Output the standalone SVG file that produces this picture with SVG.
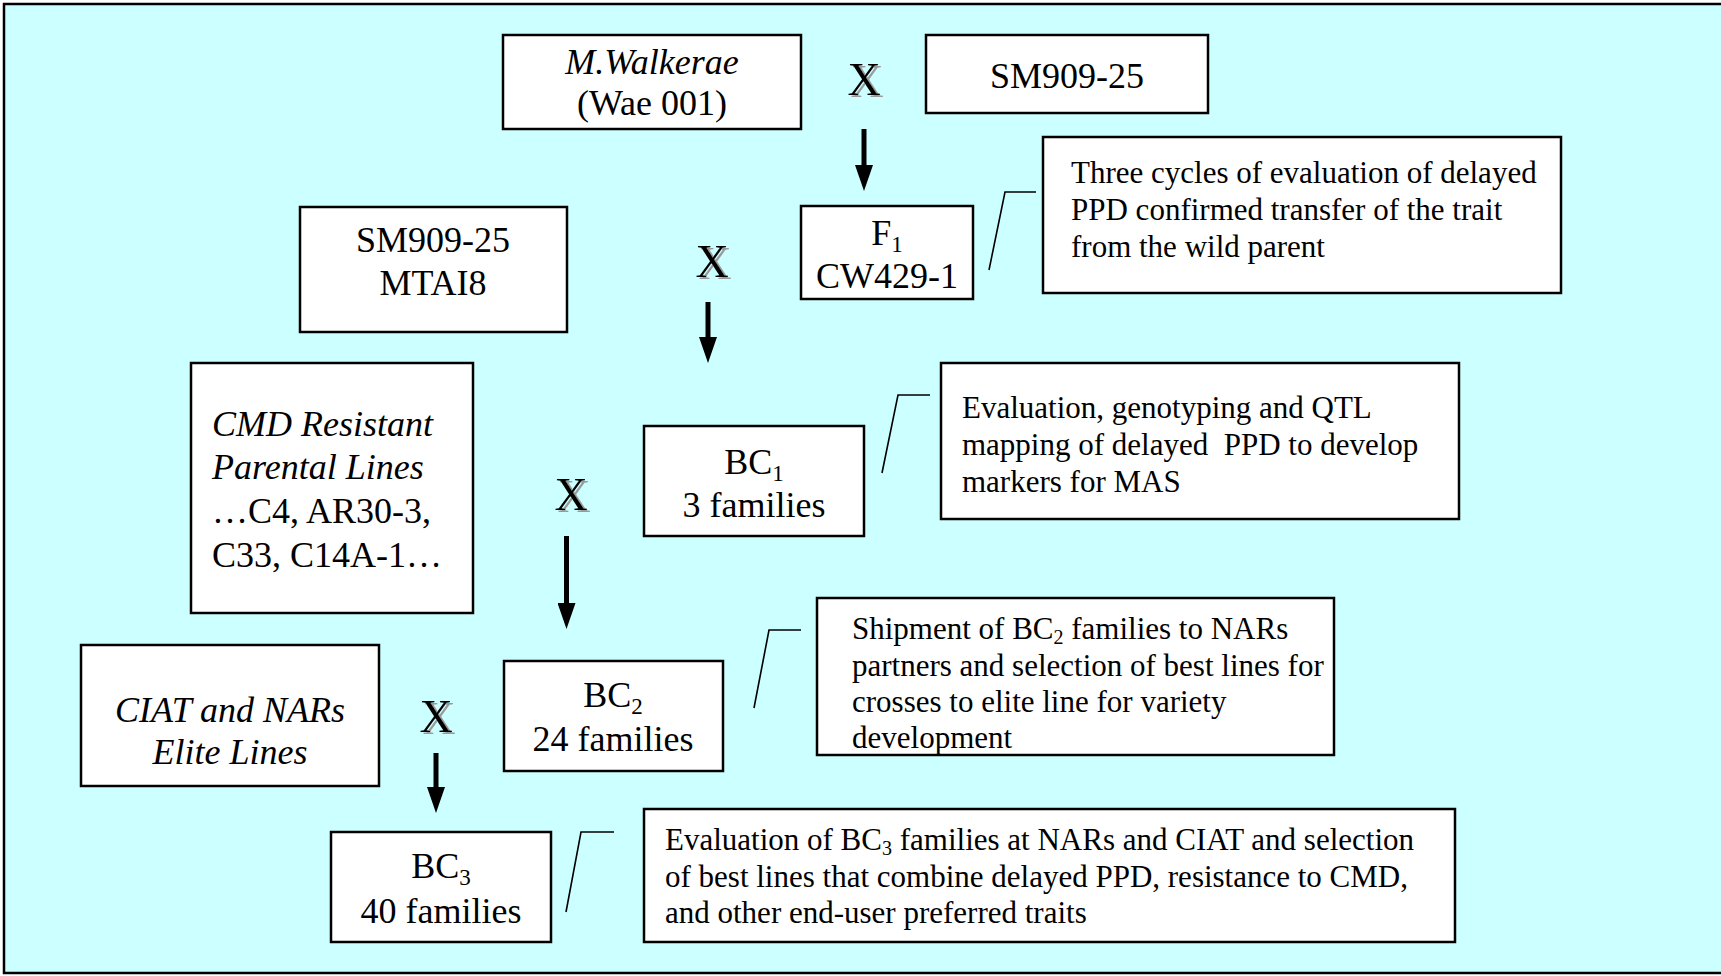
<svg xmlns="http://www.w3.org/2000/svg" width="1721" height="976" viewBox="0 0 1721 976">
<style>
.box{fill:#fff;stroke:#000;stroke-width:2.5}
.t{font-family:"Liberation Serif","Times New Roman",serif;font-size:36px;fill:#000}
.c{text-anchor:middle}
.i{font-style:italic}
.n{font-family:"Liberation Serif","Times New Roman",serif;font-size:31px;fill:#000;white-space:pre}
.x{font-family:"Liberation Serif","Times New Roman",serif;font-size:46px;text-anchor:middle;fill:#000;filter:url(#shadow)}
.conn{stroke:#000;stroke-width:5;fill:none}
.call{stroke:#000;stroke-width:1.6;fill:none}
</style>
<defs>
<filter id="shadow" x="-20%" y="-20%" width="150%" height="150%">
<feOffset in="SourceAlpha" dx="2.5" dy="2" result="o"/>
<feFlood flood-color="#9a9a9a"/>
<feComposite in2="o" operator="in" result="s"/>
<feMerge><feMergeNode in="s"/><feMergeNode in="SourceGraphic"/></feMerge>
</filter>
<marker id="ah" markerUnits="userSpaceOnUse" viewBox="0 0 26 18" markerWidth="26" markerHeight="18" refX="2" refY="9" orient="auto">
<path d="M0,0 L26,9 L0,18 z" fill="#000"/>
</marker>
</defs>
<rect x="0" y="0" width="1721" height="976" fill="#fff"/>
<rect x="4" y="4" width="1740" height="969" fill="#CCFFFF" stroke="#000" stroke-width="2.5"/>

<g id="cross-marks">
<text class="x" x="864" y="95">X</text>
<text class="x" x="712" y="277">X</text>
<text class="x" x="571" y="510">X</text>
<text class="x" x="436" y="732">X</text>
</g>

<g id="connectors">
<line class="conn" x1="864" y1="129" x2="864" y2="167" marker-end="url(#ah)"/>
<line class="conn" x1="708" y1="302" x2="708" y2="339" marker-end="url(#ah)"/>
<line class="conn" x1="566.5" y1="536" x2="566.5" y2="605" marker-end="url(#ah)"/>
<line class="conn" x1="436" y1="753" x2="436" y2="789" marker-end="url(#ah)"/>
<polyline class="call" points="989,270 1005,192 1036,192"/>
<polyline class="call" points="882,473 898,395 930,395"/>
<polyline class="call" points="754,708 769,630 801,630"/>
<polyline class="call" points="566,912 581,832 614,832"/>
</g>

<g id="mwalkerae">
<rect class="box" x="503" y="35" width="298" height="94"/>
<text class="t c i" x="652" y="74">M.Walkerae</text>
<text class="t c" x="652" y="115">(Wae 001)</text>
</g>
<g id="sm909-top">
<rect class="box" x="926" y="35" width="282" height="78"/>
<text class="t c" x="1067" y="88">SM909-25</text>
</g>
<g id="f1">
<rect class="box" x="801" y="206" width="172" height="93"/>
<text class="t c" x="887" y="245">F<tspan font-size="23" dy="7">1</tspan></text>
<text class="t c" x="887" y="288">CW429-1</text>
</g>
<g id="note-f1">
<rect class="box" x="1043" y="137" width="518" height="156"/>
<text class="n" x="1071" y="183">Three cycles of evaluation of delayed</text>
<text class="n" x="1071" y="220">PPD confirmed transfer of the trait</text>
<text class="n" x="1071" y="257">from the wild parent</text>
</g>
<g id="sm909-mtai8">
<rect class="box" x="300" y="207" width="267" height="125"/>
<text class="t c" x="433" y="252">SM909-25</text>
<text class="t c" x="433" y="295">MTAI8</text>
</g>
<g id="cmd-lines">
<rect class="box" x="191" y="363" width="282" height="250"/>
<text class="t i" x="212" y="436">CMD Resistant</text>
<text class="t i" x="212" y="479">Parental Lines</text>
<text class="t" x="212" y="523">…C4, AR30-3,</text>
<text class="t" x="212" y="567">C33, C14A-1…</text>
</g>
<g id="bc1">
<rect class="box" x="644" y="426" width="220" height="110"/>
<text class="t c" x="754" y="474">BC<tspan font-size="23" dy="7">1</tspan></text>
<text class="t c" x="754" y="517">3 families</text>
</g>
<g id="note-bc1">
<rect class="box" x="941" y="363" width="518" height="156"/>
<text class="n" x="962" y="418">Evaluation, genotyping and QTL</text>
<text class="n" x="962" y="455">mapping of delayed  PPD to develop</text>
<text class="n" x="962" y="492">markers for MAS</text>
</g>
<g id="ciat-elite">
<rect class="box" x="81" y="645" width="298" height="141"/>
<text class="t c i" x="230" y="722">CIAT and NARs</text>
<text class="t c i" x="230" y="764">Elite Lines</text>
</g>
<g id="bc2">
<rect class="box" x="504" y="661" width="219" height="110"/>
<text class="t c" x="613" y="707">BC<tspan font-size="23" dy="7">2</tspan></text>
<text class="t c" x="613" y="751">24 families</text>
</g>
<g id="note-bc2">
<rect class="box" x="817" y="598" width="517" height="157"/>
<text class="n" x="852" y="639">Shipment of BC<tspan font-size="20" dy="5">2</tspan><tspan dy="-5"> families to NARs</tspan></text>
<text class="n" x="852" y="676">partners and selection of best lines for</text>
<text class="n" x="852" y="712">crosses to elite line for variety</text>
<text class="n" x="852" y="748">development</text>
</g>
<g id="bc3">
<rect class="box" x="331" y="832" width="220" height="110"/>
<text class="t c" x="441" y="878">BC<tspan font-size="23" dy="7">3</tspan></text>
<text class="t c" x="441" y="923">40 families</text>
</g>
<g id="note-bc3">
<rect class="box" x="644" y="809" width="811" height="133"/>
<text class="n" x="665" y="850">Evaluation of BC<tspan font-size="20" dy="5">3</tspan><tspan dy="-5"> families at NARs and CIAT and selection</tspan></text>
<text class="n" x="665" y="887">of best lines that combine delayed PPD, resistance to CMD,</text>
<text class="n" x="665" y="923">and other end-user preferred traits</text>
</g>
</svg>
